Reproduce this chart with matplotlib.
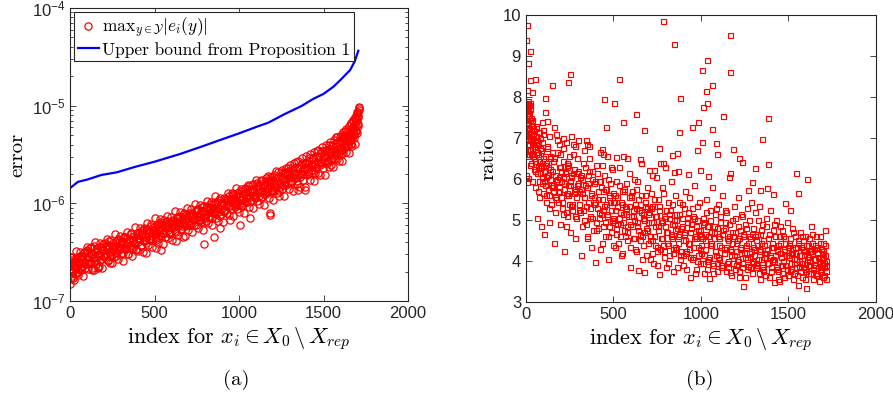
import numpy as np
import matplotlib
matplotlib.use("Agg")
import matplotlib.pyplot as plt
from matplotlib.font_manager import FontProperties

plt.rcParams["font.family"] = ["Liberation Sans", "DejaVu Sans"]
plt.rcParams["mathtext.fontset"] = "dejavusans"
plt.rcParams["axes.unicode_minus"] = False

# ---- panel (a): max error per point (units of 1e-6) ----
err_idx = [
    0, 3, 6, 9, 12, 15, 19, 23, 27, 31, 36, 41, 46, 51, 57, 63, 69, 75, 82, 89,
    95, 100, 106, 111, 117, 122, 128, 133, 139, 144, 150, 156, 161, 167, 172, 178, 184, 190,
    196, 201, 207, 213, 219, 225, 231, 237, 243, 249, 255, 261, 267, 273, 279, 285, 291, 297,
    303, 309, 315, 320, 326, 332, 338, 343, 349, 355, 361, 367, 372, 378, 384, 390, 396,
    402, 408, 414, 420, 425, 431, 437, 443, 449, 455, 461, 467, 473, 479, 485, 491, 497,
    503, 509, 515, 521, 527, 533, 539, 545, 551, 557, 563, 569, 575, 581, 587, 593, 599,
    605, 611, 617, 623, 629, 635, 641, 647, 653, 659, 665, 671, 677, 683, 689, 695,
    701, 707, 713, 719, 725, 731, 737, 743, 749, 755, 761, 767, 773, 779, 785, 791, 797,
    803, 809, 815, 821, 827, 833, 839, 845, 851, 857, 863, 869, 875, 881, 887, 893, 899,
    905, 911, 917, 923, 929, 935, 941, 947, 953, 959, 965, 971, 977, 983, 989, 995,
    1001, 1007, 1013, 1019, 1025, 1031, 1037, 1043, 1049, 1055, 1061, 1067, 1073, 1079, 1085, 1091, 1097,
    1103, 1109, 1115, 1121, 1127, 1133, 1139, 1145, 1151, 1157, 1163, 1169, 1175, 1181, 1187, 1193, 1199,
    1205, 1211, 1217, 1223, 1229, 1235, 1241, 1247, 1253, 1259, 1265, 1271, 1277, 1283, 1289, 1295,
    1301, 1307, 1313, 1319, 1325, 1331, 1337, 1343, 1349, 1355, 1361, 1367, 1373, 1379, 1385, 1391, 1397,
    1403, 1409, 1415, 1421, 1427, 1433, 1439, 1445, 1451, 1457, 1463, 1469, 1475, 1481, 1487, 1493, 1499,
    1505, 1510, 1516, 1521, 1527, 1532, 1538, 1543, 1549, 1554, 1560, 1565, 1571, 1576, 1582, 1587, 1593, 1598,
    1602, 1606, 1610, 1614, 1618, 1622, 1626, 1630, 1634, 1638, 1642, 1646, 1650, 1654, 1658,
    1662, 1665, 1668, 1671, 1674, 1677, 1680, 1683, 1686, 1689, 1692, 1695, 1698, 1701, 1704, 1707, 1710,
    # second pass over the band
    1, 5, 10, 14, 18, 22, 26, 30, 34, 39, 44, 49, 54, 59, 64, 70, 76, 81, 87, 93,
    103, 108, 113, 119, 124, 130, 135, 141, 146, 152, 158, 163, 169, 175, 180, 186, 192, 198,
    204, 210, 216, 222, 228, 234, 240, 246, 252, 258, 264, 270, 276, 282, 288, 294,
    300, 306, 312, 318, 324, 330, 336, 342, 348, 354, 360, 366, 372, 378, 384, 390, 396,
    400, 406, 412, 418, 424, 430, 436, 442, 448, 454, 460, 466, 472, 478, 484, 490, 496,
    500, 506, 512, 518, 524, 530, 536, 542, 548, 554, 560, 566, 572, 578, 584, 590, 596,
    602, 608, 614, 620, 626, 632, 638, 644, 650, 656, 662, 668, 674, 680, 686, 692, 698,
    704, 710, 716, 722, 728, 734, 740, 746, 752, 758, 764, 770, 776, 782, 788, 794,
    800, 806, 812, 818, 824, 830, 836, 842, 848, 854, 860, 866, 872, 878, 884, 890, 896,
    902, 908, 914, 920, 926, 932, 938, 944, 950, 956, 962, 968, 974, 980, 986, 992, 998,
    1004, 1010, 1016, 1022, 1028, 1034, 1040, 1046, 1052, 1058, 1064, 1070, 1076, 1082, 1088, 1094,
    1100, 1106, 1112, 1118, 1124, 1130, 1136, 1142, 1148, 1154, 1160, 1166, 1172, 1178, 1184, 1190, 1196,
    1202, 1208, 1214, 1220, 1226, 1232, 1238, 1244, 1250, 1256, 1262, 1268, 1274, 1280, 1286, 1292, 1298,
    1304, 1310, 1316, 1322, 1328, 1334, 1340, 1346, 1352, 1358, 1364, 1370, 1376, 1382, 1388, 1394,
    1400, 1406, 1412, 1418, 1424, 1430, 1436, 1442, 1448, 1454, 1460, 1466, 1472, 1478, 1484, 1490, 1496,
    1502, 1508, 1513, 1519, 1524, 1530, 1535, 1541, 1546, 1552, 1557, 1563, 1568, 1574, 1579, 1585, 1590, 1596,
    1600, 1604, 1608, 1612, 1616, 1620, 1624, 1628, 1632, 1636, 1640, 1644, 1648, 1652, 1656, 1660,
    1663, 1666, 1669, 1672, 1675, 1678, 1681, 1684, 1687, 1690, 1693, 1696, 1699, 1702, 1705, 1708, 1711,
    # third pass, band core
    8, 17, 28, 38, 48, 60, 72, 85, 98, 112, 126, 142, 158, 174, 190,
    207, 223, 240, 256, 272, 288, 305, 322, 339, 356, 373, 390,
    408, 426, 444, 462, 480, 498, 516, 534, 552, 570, 588,
    606, 624, 642, 660, 678, 696, 714, 732, 750, 768, 786,
    804, 822, 840, 858, 876, 894, 912, 930, 948, 966, 984,
    1002, 1020, 1038, 1056, 1074, 1092, 1110, 1128, 1146, 1164, 1182,
    1200, 1218, 1236, 1254, 1272, 1290, 1308, 1326, 1344, 1362, 1380, 1398,
    1416, 1434, 1452, 1470, 1488, 1506, 1524, 1542, 1560, 1578, 1596,
    1612, 1628, 1644, 1660, 1676, 1692, 1706,
    # low outliers
    140, 168, 234, 452, 511, 540, 629, 679, 791, 850, 886, 949, 1008, 1063, 1181, 1183, 1349, 1389, 1546, 1615,
]
err_val = [
    0.15, 0.21, 0.24, 0.18, 0.26, 0.20, 0.17, 0.23, 0.25, 0.19, 0.22, 0.27, 0.20, 0.24, 0.29, 0.21, 0.26, 0.23, 0.31, 0.22,
    0.27, 0.33, 0.24, 0.29, 0.35, 0.25, 0.30, 0.22, 0.37, 0.28, 0.32, 0.26, 0.34, 0.29, 0.23, 0.36, 0.31, 0.27,
    0.33, 0.28, 0.39, 0.30, 0.35, 0.26, 0.41, 0.32, 0.29, 0.37, 0.34, 0.28, 0.40, 0.31, 0.36, 0.43, 0.33, 0.38,
    0.35, 0.41, 0.31, 0.38, 0.45, 0.34, 0.39, 0.30, 0.43, 0.37, 0.48, 0.35, 0.41, 0.46, 0.38, 0.33, 0.44,
    0.40, 0.50, 0.43, 0.37, 0.47, 0.53, 0.41, 0.45, 0.39, 0.55, 0.48, 0.43, 0.51, 0.58, 0.46, 0.42, 0.54,
    0.49, 0.44, 0.58, 0.52, 0.61, 0.47, 0.55, 0.63, 0.50, 0.57, 0.45, 0.60, 0.66, 0.53, 0.58, 0.49, 0.64,
    0.56, 0.68, 0.60, 0.52, 0.64, 0.71, 0.58, 0.62, 0.74, 0.55, 0.67, 0.61, 0.77, 0.65, 0.59, 0.72,
    0.66, 0.80, 0.63, 0.71, 0.76, 0.60, 0.84, 0.69, 0.74, 0.88, 0.67, 0.79, 0.72, 0.92, 0.75, 0.65, 0.83,
    0.77, 0.94, 0.72, 0.86, 0.81, 0.99, 0.70, 0.89, 0.84, 1.03, 0.78, 0.92, 0.87, 1.08, 0.75, 0.96, 0.90,
    1.00, 0.84, 1.12, 0.93, 0.80, 1.05, 1.18, 0.97, 0.88, 1.10, 1.24, 1.01, 0.92, 1.15, 1.29, 1.04,
    0.96, 1.20, 1.35, 1.08, 1.00, 1.26, 1.42, 1.13, 1.04, 1.31, 1.50, 1.18, 1.09, 1.38, 1.56, 1.23, 1.14,
    1.45, 1.62, 1.28, 1.19, 1.52, 1.70, 1.34, 1.24, 1.58, 1.80, 1.41, 1.30, 1.66, 1.88, 1.47, 1.36, 1.74,
    1.96, 1.54, 1.42, 1.82, 2.08, 1.61, 1.48, 1.90, 2.20, 1.69, 1.55, 2.00, 2.32, 1.76, 1.63, 2.12,
    2.44, 1.85, 1.70, 2.22, 2.58, 1.95, 1.80, 2.34, 2.72, 2.05, 1.88, 2.46, 2.88, 2.16, 1.98, 2.60, 3.02,
    2.28, 2.08, 2.74, 3.18, 2.40, 2.20, 2.90, 3.36, 2.52, 2.32, 3.06, 3.55, 2.66, 2.45, 3.24, 3.75, 2.82,
    2.60, 3.44, 3.96, 2.98, 2.75, 3.64, 4.20, 3.16, 2.92, 3.86, 4.46, 3.36, 3.10, 4.10, 4.75, 3.58, 3.30, 4.36,
    5.05, 3.80, 3.55, 4.65, 5.40, 4.05, 3.78, 4.95, 5.80, 4.32, 4.05, 5.30, 6.20, 4.62, 4.35,
    5.70, 6.65, 4.95, 4.70, 6.10, 7.10, 5.30, 5.05, 6.55, 7.60, 5.70, 5.45, 7.05, 8.20, 6.20, 7.60, 9.50,
    # second pass
    0.28, 0.17, 0.25, 0.195, 0.28, 0.165, 0.24, 0.22, 0.325, 0.195, 0.283, 0.183, 0.247, 0.32, 0.215, 0.28, 0.182, 0.32, 0.24, 0.31,
    0.36, 0.215, 0.31, 0.246, 0.354, 0.206, 0.302, 0.276, 0.40, 0.242, 0.35, 0.225, 0.302, 0.39, 0.26, 0.34, 0.218, 0.385,
    0.286, 0.368, 0.43, 0.255, 0.37, 0.293, 0.42, 0.243, 0.358, 0.327, 0.48, 0.287, 0.417, 0.267, 0.359, 0.463,
    0.306, 0.40, 0.257, 0.453, 0.338, 0.435, 0.504, 0.30, 0.436, 0.346, 0.496, 0.289, 0.425, 0.39, 0.571, 0.343, 0.50,
    0.323, 0.435, 0.563, 0.377, 0.494, 0.317, 0.559, 0.416, 0.537, 0.622, 0.371, 0.538, 0.427, 0.613, 0.356, 0.525, 0.48,
    0.704, 0.422, 0.614, 0.393, 0.529, 0.684, 0.458, 0.598, 0.384, 0.675, 0.502, 0.647, 0.75, 0.446, 0.646, 0.511, 0.733,
    0.426, 0.627, 0.573, 0.839, 0.503, 0.732, 0.47, 0.631, 0.813, 0.545, 0.711, 0.456, 0.802, 0.597, 0.768, 0.888, 0.53,
    0.766, 0.607, 0.87, 0.505, 0.743, 0.678, 0.994, 0.595, 0.864, 0.554, 0.744, 0.96, 0.643, 0.838, 0.538, 0.944,
    0.702, 0.905, 1.048, 0.625, 0.905, 0.717, 1.028, 0.598, 0.88, 0.804, 1.177, 0.705, 1.024, 0.657, 0.884, 1.142, 0.769,
    1.007, 0.648, 1.141, 0.851, 1.098, 1.274, 0.761, 1.103, 0.88, 1.263, 0.734, 1.082, 0.988, 1.449, 0.869, 1.263, 0.81,
    1.09, 1.408, 0.944, 1.232, 0.791, 1.391, 1.035, 1.334, 1.544, 0.92, 1.333, 1.056, 1.525, 0.886, 1.302, 1.188,
    1.753, 1.05, 1.534, 0.983, 1.32, 1.715, 1.148, 1.496, 0.966, 1.696, 1.26, 1.633, 1.888, 1.131, 1.635, 1.302, 1.863,
    1.08, 1.596, 1.454, 2.139, 1.279, 1.864, 1.193, 1.61, 2.074, 1.394, 1.826, 1.176, 2.074, 1.548, 2.001, 2.323, 1.388,
    2.016, 1.602, 2.3, 1.339, 1.974, 1.805, 2.65, 1.591, 2.313, 1.485, 2.0, 2.598, 1.743, 2.288, 1.47, 2.599,
    1.935, 2.507, 2.917, 1.747, 2.542, 2.024, 2.913, 1.699, 2.51, 2.309, 3.409, 2.058, 3.009, 1.943, 2.63, 3.418, 2.312,
    3.036, 1.96, 3.477, 2.61, 3.381, 3.947, 2.371, 3.461, 2.763, 4.0, 2.347, 3.486, 3.211, 4.761, 2.87, 4.213, 2.715, 3.68,
    4.736, 3.205, 4.224, 2.737, 4.856, 3.645, 4.738, 5.544, 3.331, 4.861, 3.881, 5.6, 3.283, 4.872, 4.484, 6.624,
    4.02, 5.9, 3.83, 5.25, 6.91, 4.68, 6.22, 4.06, 7.26, 5.49, 7.25, 8.58, 5.23, 7.84, 6.42, 9.63, 9.02,
    # third pass
    0.232, 0.204, 0.266, 0.23, 0.253, 0.22, 0.289, 0.253, 0.325, 0.252, 0.304, 0.247, 0.328, 0.299, 0.36,
    0.297, 0.377, 0.325, 0.356, 0.308, 0.401, 0.345, 0.448, 0.345, 0.417, 0.344, 0.46,
    0.427, 0.522, 0.426, 0.515, 0.433, 0.569, 0.496, 0.642, 0.496, 0.60, 0.493,
    0.656, 0.60, 0.727, 0.592, 0.713, 0.596, 0.781, 0.679, 0.876, 0.675, 0.812,
    0.666, 0.883, 0.809, 0.986, 0.806, 0.963, 0.816, 1.072, 0.945, 1.23, 0.954,
    1.155, 0.952, 1.265, 1.156, 1.404, 1.15, 1.393, 1.17, 1.523, 1.34, 1.752,
    1.35, 1.632, 1.343, 1.782, 1.646, 2.018, 1.674, 2.03, 1.707, 2.24, 1.976, 2.58,
    1.998, 2.449, 2.04, 2.75, 2.587, 3.225, 2.705, 3.348, 2.86, 3.898, 3.477,
    4.68, 3.78, 4.749, 4.08, 5.995, 6.174, 8.584,
    # low outliers
    0.21, 0.22, 0.243, 0.312, 0.351, 0.333, 0.414, 0.466, 0.383, 0.449, 0.555, 0.675, 0.60, 0.70, 0.79, 0.76, 1.37, 1.38, 2.47, 3.25,
]

# upper bound curve (units of 1e-6)
bound_idx = [0, 47, 101, 185, 278, 380, 501, 651, 777, 880, 1000, 1107, 1172, 1270,
             1369, 1438, 1500, 1558, 1600, 1639, 1657, 1685, 1706]
bound_val = [1.43, 1.66, 1.75, 1.95, 2.08, 2.35, 2.67, 3.20, 3.80, 4.40, 5.20, 6.10, 6.68, 8.20,
             9.90, 11.7, 13.2, 15.6, 18.3, 21.5, 23.1, 28.5, 36.5]

# ---- panel (b): ratio ----
ratio_idx = [
    1, 2, 3, 4, 5, 6, 7, 8, 9, 10, 11, 12, 14, 15, 17, 18, 20, 22, 24, 26, 28, 30, 33, 36, 39, 42, 45, 48,
    51, 54, 57, 60, 63, 66, 69, 72, 75, 78, 81, 84, 87, 90, 93, 96, 99, 102, 105, 108,
    112, 116, 120, 124, 128, 132, 136, 140, 144, 148,
    152, 157, 162, 167, 172, 177, 182, 187, 192, 197, 202, 207, 212, 217, 222, 227, 232, 237, 242, 247,
    252, 257, 262, 267, 272, 277, 282, 287, 292, 297,
    302, 308, 314, 320, 326, 332, 338, 344, 350, 356, 362, 368, 374, 380, 386, 392, 398, 404, 410, 416,
    422, 428, 434, 440, 446, 452, 458, 464, 470, 476, 482, 488, 494, 499,
    505, 511, 517, 523, 529, 535, 541, 547, 553, 559, 565, 571, 577, 583, 589, 595, 601, 607, 613, 619,
    625, 631, 637, 643, 649, 655, 661, 667, 673, 679, 685, 691, 697,
    703, 709, 715, 721, 727, 733, 739, 745, 751, 757, 763, 769, 775, 781, 787, 793, 799, 805, 811, 817,
    823, 829, 835, 841, 847, 853, 859, 865, 871, 877, 883, 889, 895, 901, 907, 913, 919, 925, 931, 937,
    943, 949, 955, 961, 967, 973, 979, 985, 991, 997,
    1003, 1009, 1015, 1021, 1027, 1033, 1039, 1045, 1051, 1057, 1063, 1069, 1075, 1081, 1087, 1093, 1099, 1105, 1111, 1117,
    1123, 1129, 1135, 1141, 1147, 1153, 1159, 1165, 1171, 1177, 1183, 1189, 1195, 1201, 1207, 1213, 1219, 1225, 1231, 1237,
    1243, 1249, 1255, 1261, 1267, 1273, 1279, 1285, 1291, 1297,
    1303, 1309, 1315, 1321, 1327, 1333, 1339, 1345, 1351, 1357, 1363, 1369, 1375, 1381, 1387, 1393, 1399, 1405, 1411, 1417,
    1423, 1429, 1435, 1441, 1447, 1453, 1459, 1465, 1471, 1477, 1483, 1489, 1495,
    1501, 1507, 1513, 1519, 1525, 1531, 1537, 1543, 1549, 1555, 1561, 1567, 1573, 1579, 1585, 1591, 1597, 1603, 1609, 1615,
    1621, 1627, 1633, 1639, 1645, 1651, 1657, 1663, 1669, 1675, 1680, 1685, 1690, 1695, 1700, 1704, 1708, 1712, 1715,
    # second pass over the main cloud
    2, 5, 8, 11, 13, 16, 19, 21, 25, 29, 32, 37, 41, 46, 53, 58, 64, 71, 80, 92,
    104, 110, 115, 121, 126, 131, 137, 142, 147, 155, 160, 165, 170, 176, 181, 186, 191, 196, 203, 209,
    214, 219, 225, 230, 236, 241, 246, 253, 259, 265, 270, 278, 285, 293,
    305, 311, 317, 323, 329, 335, 341, 347, 353, 359, 365, 371, 377, 383, 389, 395, 401, 407, 413, 419,
    425, 431, 437, 443, 449, 455, 461, 467, 473, 479, 485, 491, 497, 500,
    503, 508, 514, 520, 526, 532, 538, 544, 550, 556, 562, 568, 574, 580, 586, 592, 598, 604, 610, 616,
    622, 628, 634, 640, 646, 652, 658, 664, 670, 676, 682, 688, 694, 700,
    706, 712, 718, 724, 730, 736, 742, 748, 754, 760, 766, 772, 778, 784, 790, 796, 802, 808, 814, 820,
    826, 832, 838, 844, 850, 856, 862, 868, 874, 880, 886, 892, 898, 904, 910, 916, 922, 928, 934, 940,
    946, 952, 958, 964, 970, 976, 982, 988, 994, 1000,
    1006, 1012, 1018, 1024, 1030, 1036, 1042, 1048, 1054, 1060, 1066, 1072, 1078, 1084, 1090, 1096, 1102, 1108, 1114, 1120,
    1126, 1132, 1138, 1144, 1150, 1156, 1162, 1168, 1174, 1180, 1186, 1192, 1198, 1204, 1210, 1216, 1222, 1228, 1234, 1240,
    1246, 1252, 1258, 1264, 1270, 1276, 1282, 1288, 1294, 1300,
    1306, 1312, 1318, 1324, 1330, 1336, 1342, 1348, 1354, 1360, 1366, 1372, 1378, 1384, 1390, 1396, 1402, 1408, 1414, 1420,
    1426, 1432, 1438, 1444, 1450, 1456, 1462, 1468, 1474, 1480, 1486, 1492, 1498,
    1504, 1510, 1516, 1522, 1528, 1534, 1540, 1546, 1552, 1558, 1564, 1570, 1576, 1582, 1588, 1594, 1600, 1606, 1612, 1618,
    1624, 1630, 1636, 1642, 1648, 1654, 1660, 1666, 1672, 1678, 1683, 1688, 1693, 1698, 1702, 1706, 1709, 1711, 1713, 1714,
    # third pass, dense core
    3, 6, 9, 13, 17, 21, 26, 31, 35, 43, 50, 56, 62, 68, 74, 79, 85, 91, 97, 106,
    114, 122, 130, 138, 146, 156, 166, 178, 188, 199,
    206, 213, 220, 228, 235, 243, 250, 258, 266, 274, 281, 289, 296, 304, 312, 319, 327, 334, 342, 349,
    357, 364, 372, 379, 387, 394, 402, 409, 417, 424, 432, 439, 447, 454, 462, 469, 477, 484, 492, 498,
    507, 515, 523, 531, 539, 547, 555, 563, 571, 579, 587, 595, 603, 611, 619, 627, 635, 643, 651, 659,
    667, 675, 683, 691, 699, 707, 715, 723, 731, 739, 747, 755, 763, 771, 779, 787, 795, 803, 811, 819,
    827, 835, 843, 851, 859, 867, 875, 883, 891, 899,
    905, 913, 921, 929, 937, 945, 953, 961, 969, 977, 985, 993, 1001, 1009, 1017, 1025, 1033, 1041, 1049, 1057,
    1065, 1073, 1081, 1089, 1097, 1105, 1113, 1121, 1129, 1137, 1145, 1153, 1161, 1169, 1177, 1185, 1193, 1201, 1209, 1217,
    1225, 1233, 1241, 1249, 1257, 1265, 1273, 1281, 1289, 1297,
    1305, 1313, 1321, 1329, 1337, 1345, 1353, 1361, 1369, 1377, 1385, 1393, 1401, 1409, 1417, 1425, 1433, 1441, 1449, 1457,
    1465, 1473, 1481, 1489, 1497, 1505, 1513, 1521, 1529, 1537, 1545, 1553, 1561, 1569, 1577, 1585, 1593, 1601, 1609, 1617,
    1625, 1633, 1641, 1649, 1657, 1665, 1673, 1681, 1689, 1697,
    # scattered high values
    4, 0, 23, 13, 23, 51, 8, 32, 150, 251, 238, 533, 785, 848, 109, 448, 505, 880, 1036, 1004,
    1029, 1061, 1036, 1013, 1166, 1166, 627, 556, 457, 676, 1128, 985, 949, 1061, 872, 1004, 762, 1086, 1090, 975,
    833, 865, 785, 705, 848, 926, 993, 1042, 1166, 1385, 1347, 1185, 1385, 1541, 1608, 1308, 1219, 1232, 1552, 1410,
    1375, 1290, 1270, 1337, 1480, 1509, 110, 162, 118, 360, 436, 440, 514, 579, 650, 655, 766, 722, 730,
    12, 20, 25, 35, 40, 60, 75, 90, 65, 100, 130, 170, 190, 210, 230, 260, 280, 300, 330, 350,
]
ratio_val = [
    7.82, 6.10, 7.45, 7.85, 5.92, 7.35, 7.05, 7.78, 6.95, 7.55, 7.40, 6.02, 7.90, 7.25, 6.85, 7.60, 7.15, 6.70, 7.70, 7.30,
    6.40, 7.05, 6.90, 7.45, 6.55, 7.10, 6.25, 6.80,
    6.95, 5.80, 6.60, 7.05, 5.05, 6.30, 6.85, 5.55, 6.45, 7.00, 6.15, 4.85, 6.70, 5.90, 6.40, 7.10, 5.65, 6.20, 4.65, 6.55,
    6.05, 5.45, 6.80, 6.30, 5.75, 4.95, 6.50, 6.00, 5.40, 6.65,
    5.85, 6.45, 4.45, 6.10, 5.50, 6.95, 5.70, 6.30, 4.90, 6.60, 5.95, 5.30, 6.75, 4.25, 6.15, 5.60, 6.40, 5.10, 5.85, 6.55,
    4.70, 6.05, 5.40, 6.85, 5.75, 6.25, 4.55, 5.55, 6.50, 5.90,
    5.25, 6.05, 4.15, 5.65, 6.40, 5.00, 5.85, 6.95, 4.60, 5.45, 6.20, 5.10, 4.35, 6.00, 5.55, 3.98, 6.35, 5.30, 4.80, 5.95,
    6.65, 5.15, 4.45, 5.70, 6.10, 4.95, 5.40, 6.55, 4.05, 5.60, 5.90, 4.70, 6.25, 5.05,
    5.45, 4.35, 5.95, 4.90, 6.30, 5.20, 4.15, 5.70, 6.55, 4.75, 5.35, 5.90, 4.50, 5.10, 6.15, 3.85, 5.55, 4.85, 5.25, 6.00,
    4.30, 5.75, 4.95, 3.78, 5.40, 6.40, 4.60, 5.15, 3.72, 5.60, 4.80, 5.30, 4.45,
    5.20, 4.05, 5.65, 4.50, 3.95, 5.35, 4.85, 6.05, 4.25, 5.50, 3.68, 4.95, 5.80, 4.40, 5.10, 6.30, 3.85, 4.70, 5.45, 4.15,
    5.25, 5.95, 4.55, 3.75, 5.00, 5.60, 4.30, 4.80, 6.20, 5.15, 4.05, 5.40, 3.90, 4.65, 5.70, 4.20, 5.05, 4.45, 5.55, 3.60,
    4.90, 5.30, 4.10, 5.85, 4.60, 3.80, 5.00, 4.35, 5.45, 4.75,
    4.20, 5.05, 3.70, 4.65, 5.50, 4.00, 4.85, 3.58, 5.25, 4.40, 5.80, 3.90, 4.70, 5.15, 4.15, 3.75, 5.40, 4.55, 4.95, 3.85,
    5.60, 4.30, 4.80, 5.20, 3.95, 4.50, 6.05, 3.72, 4.25, 5.00, 4.60, 5.35, 3.80, 4.45, 4.05, 5.55, 3.62, 4.75, 4.20, 5.10,
    3.40, 4.90, 4.35, 5.30, 3.88, 4.60, 4.10, 5.45, 3.70, 4.80,
    4.30, 5.20, 3.85, 4.65, 4.05, 5.35, 3.55, 4.45, 4.90, 3.75, 4.20, 5.05, 3.95, 4.55, 3.60, 5.25, 4.35, 4.00, 4.75, 3.48,
    4.15, 5.00, 3.80, 4.40, 3.52, 4.85, 4.10, 3.70, 4.60, 4.25, 3.90, 4.95, 3.65,
    4.45, 3.75, 4.20, 4.80, 3.55, 4.05, 4.60, 3.85, 4.35, 3.42, 4.15, 4.70, 3.95, 3.60, 4.50, 4.25, 3.80, 3.35, 4.40, 4.00,
    3.70, 4.85, 4.20, 3.55, 4.30, 3.90, 4.60, 3.65, 4.10, 3.50, 4.45, 3.85, 4.05, 3.60, 4.25, 3.95, 4.75, 3.75, 4.00,
    # second pass
    7.20, 6.55, 7.65, 6.85, 7.10, 6.60, 7.80, 6.35, 6.95, 7.50, 5.95, 6.75, 7.20, 6.50, 6.20, 7.25, 6.65, 5.70, 6.35, 6.90,
    5.95, 6.35, 5.60, 6.75, 6.10, 5.30, 6.55, 5.85, 6.20, 5.70, 6.50, 5.20, 5.95, 6.65, 5.45, 6.05, 5.80, 6.30, 5.55, 6.45,
    5.15, 5.90, 6.20, 4.85, 5.65, 6.35, 5.40, 5.85, 6.10, 5.25, 6.60, 5.70, 5.05, 6.15,
    5.70, 5.20, 6.10, 4.85, 5.55, 6.30, 5.35, 4.55, 5.90, 6.50, 5.05, 5.65, 6.20, 4.75, 5.40, 5.95, 4.95, 6.15, 5.50, 5.05,
    4.30, 5.80, 6.35, 5.25, 4.60, 5.75, 5.15, 6.00, 4.85, 5.45, 6.30, 5.00, 4.40, 5.65,
    5.00, 5.60, 4.65, 5.35, 4.45, 5.85, 4.90, 5.45, 4.20, 5.15, 5.75, 4.60, 5.30, 4.85, 5.55, 4.35, 5.10, 5.70, 4.55, 5.00,
    5.40, 4.25, 5.95, 4.75, 5.25, 4.50, 5.60, 4.05, 5.05, 4.70, 5.35, 4.15, 5.80, 4.95,
    4.60, 5.30, 4.20, 4.95, 5.50, 4.40, 5.10, 3.90, 4.75, 5.35, 4.30, 5.00, 4.55, 5.65, 4.10, 4.85, 5.25, 4.45, 3.95, 5.05,
    4.65, 5.40, 4.20, 4.90, 4.35, 5.15, 3.85, 4.60, 5.45, 4.25, 4.80, 5.05, 4.15, 5.30, 4.50, 3.80, 4.95, 5.20, 4.30, 4.70,
    4.05, 5.10, 4.55, 3.70, 4.85, 5.35, 4.15, 4.65, 3.95, 4.40,
    4.55, 3.95, 4.95, 4.30, 5.20, 3.80, 4.60, 4.10, 5.00, 4.45, 3.70, 4.85, 4.25, 5.30, 3.95, 4.60, 4.05, 5.10, 4.35, 3.85,
    4.75, 4.20, 5.25, 3.75, 4.55, 4.00, 4.90, 4.30, 3.65, 4.70, 4.15, 5.05, 3.90, 4.50, 4.85, 3.75, 4.35, 5.15, 3.95, 4.60,
    4.20, 3.60, 4.80, 4.05, 4.45, 5.00, 3.85, 4.25, 4.65, 3.95,
    4.60, 3.95, 4.40, 5.00, 3.70, 4.25, 4.75, 3.85, 4.50, 4.10, 3.65, 4.85, 4.30, 3.95, 4.65, 4.15, 3.75, 4.45, 4.05, 4.90,
    3.85, 4.30, 3.55, 4.60, 4.20, 3.90, 4.75, 4.00, 3.60, 4.45, 4.15, 3.80, 4.35,
    4.10, 4.55, 3.80, 4.30, 4.70, 3.95, 4.20, 3.65, 4.45, 4.00, 3.75, 4.35, 4.60, 3.85, 4.15, 3.55, 4.40, 4.05, 3.70, 4.55,
    3.90, 4.25, 4.65, 3.80, 4.05, 4.40, 3.70, 4.20, 3.95, 4.60, 3.75, 4.30, 3.90, 4.10, 3.65, 3.85, 4.15, 4.40, 3.55, 3.90,
    # third pass
    7.60, 7.00, 7.35, 7.75, 6.70, 7.45, 7.10, 6.60, 7.30, 6.85, 6.45, 6.90, 6.15, 6.60, 5.95, 6.75, 6.30, 6.05, 6.50, 5.85,
    6.40, 6.10, 5.60, 6.25, 5.80, 6.45, 5.55, 6.00, 5.70, 6.20,
    5.45, 6.05, 5.75, 5.20, 6.30, 5.60, 5.95, 5.35, 6.15, 5.65, 5.10, 5.85, 6.20, 5.40, 5.75, 6.00, 5.25, 5.55, 4.90, 5.80,
    6.10, 5.30, 5.60, 5.05, 5.90, 5.45, 4.75, 5.70, 5.20, 5.95, 5.50, 4.85, 5.35, 5.75, 5.10, 4.60, 5.55, 5.25, 4.95, 5.45,
    5.25, 4.80, 5.55, 5.05, 4.60, 5.40, 4.95, 5.70, 5.15, 4.70, 5.35, 4.90, 5.60, 5.10, 4.55, 5.30, 4.85, 5.50, 4.65, 5.20,
    4.40, 5.00, 5.45, 4.75, 5.15, 4.50, 4.95, 5.35, 4.60, 5.10, 4.35, 4.85, 5.25, 4.55, 4.95, 4.25, 5.05, 4.70, 4.40, 5.15,
    4.60, 4.90, 4.30, 4.75, 5.00, 4.45, 4.65, 4.15, 4.85, 4.50,
    4.70, 4.25, 4.95, 4.45, 4.10, 4.80, 4.35, 5.05, 4.55, 4.00, 4.75, 4.30, 4.60, 4.90, 4.15, 4.50, 4.85, 4.05, 4.40, 4.70,
    3.95, 4.55, 4.25, 4.80, 4.10, 4.40, 3.90, 4.65, 4.20, 4.95, 4.35, 3.85, 4.60, 4.15, 4.45, 3.95, 4.70, 4.25, 4.00, 4.55,
    4.30, 3.85, 4.65, 4.10, 4.40, 3.80, 4.20, 4.55, 4.00, 4.35,
    4.15, 4.50, 3.90, 4.30, 4.65, 4.05, 3.80, 4.40, 4.20, 3.95, 4.55, 4.10, 3.85, 4.35, 4.00, 4.60, 4.25, 3.75, 4.45, 4.10,
    3.90, 4.30, 4.55, 3.80, 4.15, 4.40, 3.95, 4.20, 3.70, 4.35, 4.05, 4.50, 3.85, 4.15, 3.95, 4.30, 4.60, 3.75, 4.10, 3.90,
    4.25, 4.45, 3.85, 4.05, 3.65, 4.35, 4.00, 3.80, 4.20, 4.45,
    # scattered high values
    9.75, 9.39, 9.12, 8.82, 8.41, 8.45, 8.17, 8.13, 8.29, 8.55, 8.37, 8.44, 9.86, 9.29, 7.97, 7.94, 7.85, 7.97, 8.90, 8.67,
    8.15, 8.29, 7.85, 7.76, 8.62, 9.51, 7.58, 7.38, 7.26, 7.20, 7.54, 7.40, 7.28, 7.22, 7.15, 6.90, 6.76, 6.87, 6.60, 6.70,
    6.58, 6.64, 6.40, 6.23, 6.16, 6.12, 6.23, 6.08, 6.14, 7.48, 6.98, 6.72, 6.36, 6.15, 6.00, 6.26, 6.50, 6.42, 5.65, 5.63,
    5.77, 5.93, 5.73, 5.73, 5.42, 5.25, 7.64, 7.28, 7.41, 6.81, 6.74, 6.60, 6.54, 6.50, 6.48, 6.38, 6.38, 6.10, 6.23,
    7.70, 7.50, 7.85, 7.00, 7.25, 7.30, 7.15, 7.40, 6.95, 7.20, 7.05, 7.10, 6.85, 7.00, 6.90, 7.05, 6.80, 6.95, 6.70, 6.85,
]

spine_col = "#262626"
serif = dict(fontfamily="cmr10", math_fontfamily="cm")
xlab = r"index for $x_i \in X_0 \,\backslash\, X_{rep}$"

fig = plt.figure(figsize=(8.93, 3.96), dpi=100)
ax1 = fig.add_axes([0.0784, 0.2399, 0.3785, 0.7399])
ax2 = fig.add_axes([0.589, 0.2374, 0.3919, 0.7247])

# panel (a)
ax1.plot(np.array(err_idx), np.array(err_val) * 1e-6, "o", ls="none", ms=5.2,
         mfc="none", mec="#ff0000", mew=0.9,
         label=r"$\mathrm{max}_{y\in\mathcal{Y}}|e_i(y)|$")
ax1.plot(np.array(bound_idx), np.array(bound_val) * 1e-6, color="#0000ff", lw=1.6,
         label="Upper bound from Proposition 1")
ax1.set_yscale("log")
ax1.set_xlim(0, 2000)
ax1.set_ylim(1e-7, 1e-4)
ax1.set_xticks([0, 500, 1000, 1500, 2000])
ax1.set_ylabel("error", fontsize=15, labelpad=4, **serif)
ax1.set_xlabel(xlab, fontsize=16, labelpad=3, **serif)
leg = ax1.legend(loc="upper left", prop=FontProperties(family="cmr10", size=12.5, math_fontfamily="cm"),
                 frameon=True, fancybox=False, edgecolor=spine_col, framealpha=1,
                 handlelength=1.2, handletextpad=0.2, borderpad=0.2, labelspacing=0.1,
                 borderaxespad=0.25)
leg.get_frame().set_linewidth(0.8)

# panel (b)
ax2.plot(ratio_idx, ratio_val, "s", ls="none", ms=3.6, mfc="none", mec="#ff0000", mew=0.85)
ax2.set_xlim(0, 2000)
ax2.set_ylim(3, 10)
ax2.set_xticks([0, 500, 1000, 1500, 2000])
ax2.set_yticks(range(3, 11))
ax2.set_ylabel("ratio", fontsize=15, labelpad=4, **serif)
ax2.set_xlabel(xlab, fontsize=16, labelpad=3, **serif)

for ax in (ax1, ax2):
    for s in ax.spines.values():
        s.set_color(spine_col)
        s.set_linewidth(0.8)
    ax.tick_params(which="both", direction="in", top=True, right=True,
                   colors=spine_col, labelsize=12, width=0.6)
    ax.tick_params(which="major", length=4)
    ax.tick_params(which="minor", length=2)

fig.text(0.265, 0.04, "(a)", ha="center", va="center", fontsize=15, **serif)
fig.text(0.784, 0.04, "(b)", ha="center", va="center", fontsize=15, **serif)

fig.savefig("out.png", dpi=100)
